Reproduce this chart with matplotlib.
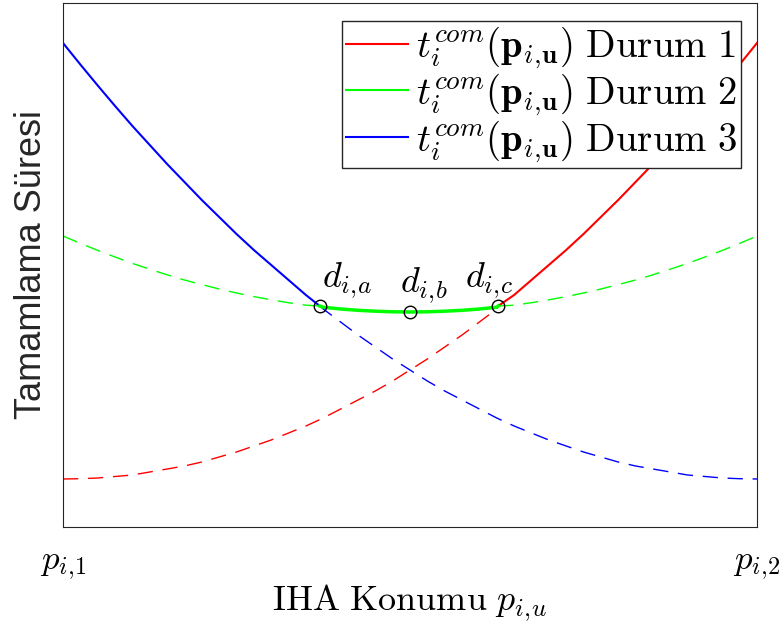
import numpy as np
import matplotlib
matplotlib.use("Agg")
import matplotlib.pyplot as plt
from matplotlib.lines import Line2D

plt.rcParams['mathtext.fontset'] = 'cm'

# UAV position along the segment p_{i,1} -> p_{i,2} (normalised)
pos = np.linspace(0, 1, 41)

# completion time (arbitrary units)
t_case3 = np.array([484, 462.5, 441.5, 421, 401, 382, 363, 345, 327, 310, 293,
                    277, 262, 247, 232, 218, 205, 192, 180, 168, 157,
                    146, 136, 127, 118, 109, 101, 94, 87, 81, 75,
                    70, 65, 61, 58, 55, 52, 50.5, 49, 48.3, 48])
t_case1 = t_case3[::-1]
t_case2 = np.array([291, 283.6, 276.6, 270, 263.6, 257.8, 252.2, 247, 242.4, 238, 234,
                    230.4, 227.2, 224.3, 221.8, 219.8, 218, 216.7, 215.8, 215.2, 215,
                    215.2, 215.8, 216.7, 218, 219.8, 221.8, 224.3, 227.2, 230.4, 234,
                    238, 242.4, 247, 252.2, 257.8, 263.6, 270, 276.6, 283.6, 291])

# switching points d_{i,a}, d_{i,b}, d_{i,c}
d_pos = [0.370, 0.500, 0.627]
d_val = [221, 215, 221]
d_names = [r'$d_{i,\!a}$', r'$d_{i,\!b}$', r'$d_{i,\!c}$']

xa, xb, xc = d_pos
ya, yb, yc = d_val

fig = plt.figure(figsize=(7.81, 6.25), dpi=100)
ax = fig.add_axes([63/781, 1-527/625, 694/781, 524/625])

dash = (0, (11, 7))

# case 3 (blue): solid left of d_a, dashed after
m = pos < xa
ax.plot(np.r_[pos[m], xa], np.r_[t_case3[m], ya], color='b', lw=1.5)
ax.plot(np.r_[xa, pos[~m]], np.r_[ya, t_case3[~m]], color='b', lw=1, ls=dash)

# case 1 (red): dashed left of d_c, solid after
m = pos < xc
ax.plot(np.r_[pos[m], xc], np.r_[t_case1[m], yc], color='r', lw=1, ls=dash)
ax.plot(np.r_[xc, pos[~m]], np.r_[yc, t_case1[~m]], color='r', lw=1.5)

# case 2 (green): dashed outside, solid between d_a and d_c
m1 = pos < xa
m2 = (pos > xa) & (pos < xc)
m3 = pos > xc
ax.plot(np.r_[pos[m1], xa], np.r_[t_case2[m1], ya], color='#00ff00', lw=1, ls=dash)
ax.plot(np.r_[xa, pos[m2], xc], np.r_[ya, t_case2[m2], yc], color='#00ff00', lw=2.5)
ax.plot(np.r_[xc, pos[m3]], np.r_[yc, t_case2[m3]], color='#00ff00', lw=1, ls=dash)

ax.plot(d_pos, d_val, 'o', mfc='none', mec='k', ms=9, mew=1)
text_x = [0.373, 0.486, 0.579]
text_y = [240, 235, 240]
for tx, ty, s in zip(text_x, text_y, d_names):
    ax.text(tx, ty, s, fontsize=26, ha='left', va='baseline')

ax.set_xlim(0, 1)
ax.set_ylim(0, 524)
ax.set_yticks([])
ax.set_xticks([0, 1])
ax.set_xticklabels([r'$p_{i,\!1}$', r'$p_{i,\!2}$'], fontsize=25)
ax.tick_params(axis='x', length=0, pad=15)
for sp in ax.spines.values():
    sp.set_color('0.15')

ax.set_xlabel(r'$\mathrm{IHA\ Konumu}\ p_{i,\!u}$', fontsize=26, labelpad=0)
ax.set_ylabel('Tamamlama Süresi', fontsize=26, family='Liberation Sans',
              color='0.15', labelpad=10)

handles = [Line2D([], [], color='r', lw=1.5),
           Line2D([], [], color='#00ff00', lw=1.5),
           Line2D([], [], color='b', lw=1.5)]
labels = [r'$t_i^{com}(\mathbf{p}_{i,\!\mathbf{u}})\ \mathrm{Durum\ %d}$' % k for k in (1, 2, 3)]
leg = fig.legend(handles, labels, loc='upper right',
                 bbox_to_anchor=(741/781, 1-21/625), fontsize=28,
                 fancybox=False, framealpha=1, edgecolor='0.15',
                 handlelength=1.6, handletextpad=0.2, borderpad=0.1,
                 labelspacing=0.0, borderaxespad=0)
leg.get_frame().set_linewidth(1)

fig.savefig('out.png', dpi=100)
